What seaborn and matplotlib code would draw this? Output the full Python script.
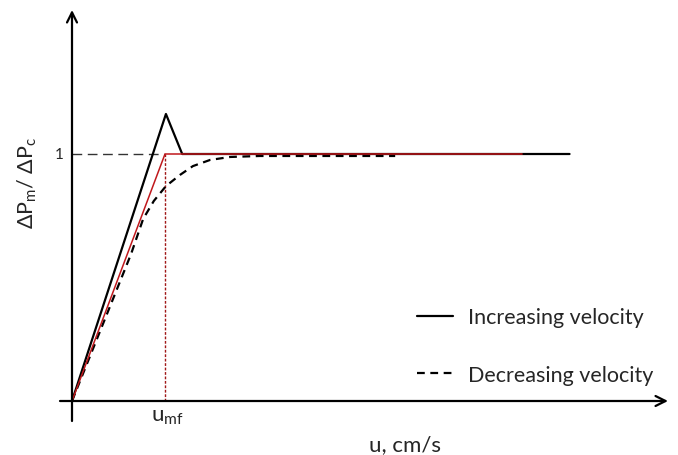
import matplotlib
matplotlib.use("Agg")
import matplotlib.pyplot as plt
import seaborn as sns
import pandas as pd
from matplotlib.lines import Line2D

sns.set_theme(style="white")
plt.rcParams['font.family'] = ['Lato', 'DejaVu Sans']
plt.rcParams['mathtext.fontset'] = 'custom'
plt.rcParams['mathtext.rm'] = 'Lato'
plt.rcParams['mathtext.it'] = 'Lato:italic'
plt.rcParams['mathtext.fallback'] = 'stixsans'

# Data (u in arbitrary units, u_mf = 2; pressure ratio dP_m/dP_c)
inc_u = [0.0, 2.02, 2.37, 10.7]
inc_p = [0.0, 1.162, 1.0, 1.0]
dec_u = [0.0, 1.27, 1.53, 1.76, 2.02, 2.32, 2.60, 2.97, 3.40, 4.04, 6.95]
dec_p = [0.0, 0.595, 0.737, 0.810, 0.870, 0.915, 0.951, 0.976, 0.988, 0.992, 0.992]
ideal_u = [0.0, 2.0, 9.68]
ideal_p = [0.0, 1.0, 1.0]
u_mf = 2.0
p_ref = 1.0
legend_labels = ["Increasing velocity", "Decreasing velocity"]

fig = plt.figure(figsize=(6.78, 4.56), dpi=100)
ax = fig.add_axes([0, 0, 1, 1])
ax.set_xlim(-72 / 46.5, 606 / 46.5)
ax.set_ylim(-54 / 247, 402 / 247)
ax.axis('off')

# reference lines
ax.plot([0, u_mf], [p_ref, p_ref], color='#333333', lw=1.0, ls=(0, (7, 4)))
ax.plot([u_mf, u_mf], [0, p_ref], color='#a01818', lw=1.0, ls=(0, (2, 1.2)))

df_inc = pd.DataFrame({'u': inc_u, 'p': inc_p})
df_dec = pd.DataFrame({'u': dec_u, 'p': dec_p})
df_ideal = pd.DataFrame({'u': ideal_u, 'p': ideal_p})

sns.lineplot(data=df_inc, x='u', y='p', sort=False, estimator=None, ax=ax,
             color='black', lw=1.6)
sns.lineplot(data=df_dec, x='u', y='p', sort=False, estimator=None, ax=ax,
             color='black', lw=1.6, linestyle=(0, (3.5, 2.5)))
sns.lineplot(data=df_ideal, x='u', y='p', sort=False, estimator=None, ax=ax,
             color='#c0181c', lw=1.1)

# axes with arrows
ax.annotate('', xy=(596 / 46.5, 0), xytext=(-12 / 46.5, 0),
            arrowprops=dict(arrowstyle='->', lw=1.6, color='black',
                            mutation_scale=18, shrinkA=0, shrinkB=0))
ax.annotate('', xy=(0, 391 / 247), xytext=(0, -20 / 247),
            arrowprops=dict(arrowstyle='->', lw=1.6, color='black',
                            mutation_scale=18, shrinkA=0, shrinkB=0))

# tick labels and axis labels
ax.text(-0.17, p_ref, '1', ha='right', va='center', fontsize=11)
ax.text(2.04, -0.02, r'u$_{\mathregular{mf}}$', ha='center', va='top',
        fontsize=16)
ax.text(7.16, -0.135, 'u, cm/s', ha='center', va='top', fontsize=16)
ax.text(-0.95, 0.887, r'$\mathregular{\Delta P_m/\ \Delta P_c}$', ha='center',
        va='center', rotation=90, fontsize=15.5)

handles = [Line2D([], [], color='black', lw=1.6),
           Line2D([], [], color='black', lw=1.6, ls=(0, (3.5, 2.5)))]
ax.legend(handles, legend_labels, loc='center left',
          bbox_to_anchor=(417 / 678, 1 - 347 / 456), frameon=False,
          fontsize=15.5, handlelength=1.67, handletextpad=0.7, labelspacing=1.72,
          borderaxespad=0, borderpad=0)

fig.savefig('out.png', dpi=100)
